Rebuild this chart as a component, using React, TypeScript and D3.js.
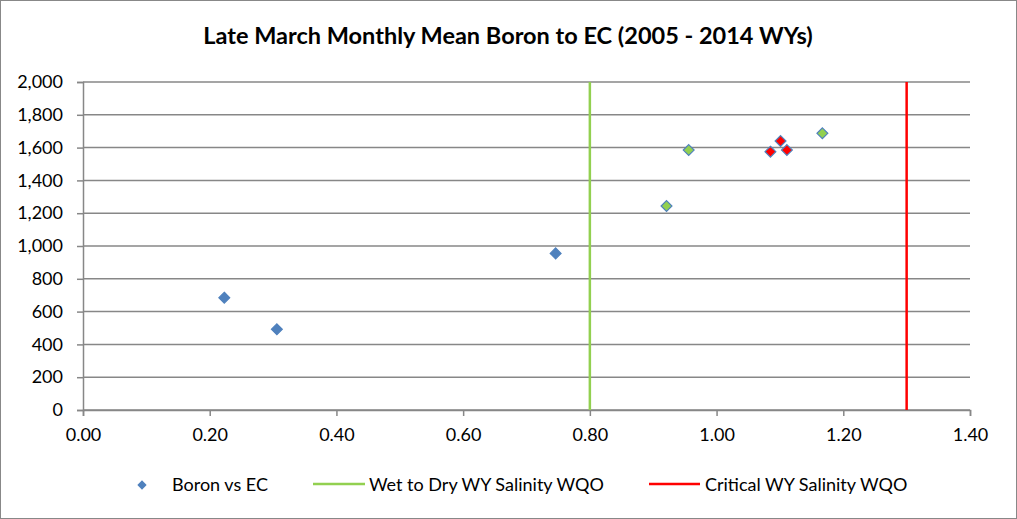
import React, {useEffect, useRef} from 'react'
import * as d3 from 'd3'

// EC (x) vs boron (y) for each marker group
const blueEC = [0.223, 0.306, 0.746];
const blueBoron = [685, 492, 955];
const greenEC = [0.921, 0.956, 1.167];
const greenBoron = [1244, 1585, 1687];
const redEC = [1.085, 1.101, 1.111];
const redBoron = [1575, 1640, 1585];

const wetDryWQO = 0.8;
const criticalWQO = 1.3;

const xTicks = [0, 0.2, 0.4, 0.6, 0.8, 1.0, 1.2, 1.4];
const yTicks = [0, 200, 400, 600, 800, 1000, 1200, 1400, 1600, 1800, 2000];

const legendLabels = ['Boron vs EC', 'Wet to Dry WY Salinity WQO', 'Critical WY Salinity WQO'];

const W = 1017, H = 519;
const font = 'Lato, "Open Sans", sans-serif';

export default function App() {
  const ref = useRef<SVGSVGElement>(null);

  useEffect(() => {
    const svg = d3.select(ref.current);
    svg.selectAll('*').remove();

    const x = d3.scaleLinear().domain([0, 1.4]).range([83, 970]);
    const y = d3.scaleLinear().domain([0, 2000]).range([410, 82]);
    const grid = '#878787';

    svg.append('rect')
      .attr('x', 0.5).attr('y', 0.5).attr('width', W - 1).attr('height', H - 1)
      .attr('fill', 'white').attr('stroke', '#888');

    svg.append('text')
      .attr('x', 508).attr('y', 44)
      .attr('text-anchor', 'middle')
      .style('font-family', font).style('font-weight', 'bold').style('font-size', '23.5px')
      .text('Late March Monthly Mean Boron to EC (2005 - 2014 WYs)');

    // horizontal gridlines
    svg.append('g').selectAll('line').data(yTicks).enter().append('line')
      .attr('x1', x(0)).attr('x2', x(1.4))
      .attr('y1', d => y(d)).attr('y2', d => y(d))
      .attr('stroke', grid).attr('stroke-width', 1.5);

    const yAxis = svg.append('g').attr('transform', `translate(${x(0)},0)`)
      .call(d3.axisLeft(y).tickValues(yTicks).tickSize(6).tickPadding(14).tickFormat(d3.format(',')));
    const xAxis = svg.append('g').attr('transform', `translate(0,${y(0)})`)
      .call(d3.axisBottom(x).tickValues(xTicks).tickSize(6).tickPadding(12).tickFormat(d3.format('.2f')));
    [yAxis, xAxis].forEach(a => {
      a.selectAll('path, line').attr('stroke', grid).attr('stroke-width', 1.5);
      a.selectAll('text').style('font-family', font).style('font-size', '18px').attr('fill', '#000');
    });

    // threshold lines
    svg.append('line')
      .attr('x1', x(wetDryWQO)).attr('x2', x(wetDryWQO)).attr('y1', y(2000)).attr('y2', y(0))
      .attr('stroke', '#92D050').attr('stroke-width', 2.5);
    svg.append('line')
      .attr('x1', x(criticalWQO)).attr('x2', x(criticalWQO)).attr('y1', y(2000)).attr('y2', y(0))
      .attr('stroke', '#FF0000').attr('stroke-width', 2.5);

    const diamond = d3.symbol().type(d3.symbolDiamond2).size(75);
    const groups = [
      {ec: blueEC, b: blueBoron, fill: '#4F81BD'},
      {ec: greenEC, b: greenBoron, fill: '#92D050'},
      {ec: redEC, b: redBoron, fill: '#FF0000'},
    ];
    groups.forEach(g => {
      svg.append('g').selectAll('path').data(g.ec).enter().append('path')
        .attr('d', diamond)
        .attr('transform', (d, i) => `translate(${x(d)},${y(g.b[i])})`)
        .attr('fill', g.fill).attr('stroke', '#4F81BD').attr('stroke-width', 1.2);
    });

    // legend
    const ly = 484;
    svg.append('path').attr('d', d3.symbol().type(d3.symbolDiamond2).size(55))
      .attr('transform', `translate(142,${ly + 1})`).attr('fill', '#4F81BD');
    svg.append('line').attr('x1', 313).attr('x2', 365).attr('y1', ly).attr('y2', ly)
      .attr('stroke', '#92D050').attr('stroke-width', 2.5);
    svg.append('line').attr('x1', 649).attr('x2', 700).attr('y1', ly).attr('y2', ly)
      .attr('stroke', '#FF0000').attr('stroke-width', 2.5);
    svg.selectAll('text.leg').data(legendLabels).enter().append('text')
      .attr('class', 'leg')
      .attr('x', (d, i) => [172, 369, 705][i]).attr('y', ly + 7)
      .style('font-family', font).style('font-size', '18px')
      .text(d => d);
  }, []);

  return (
    <div style={{position: 'absolute', left: 0, top: 0}}>
      <svg ref={ref} width={W} height={H} style={{display: 'block'}}></svg>
    </div>
  )
}
